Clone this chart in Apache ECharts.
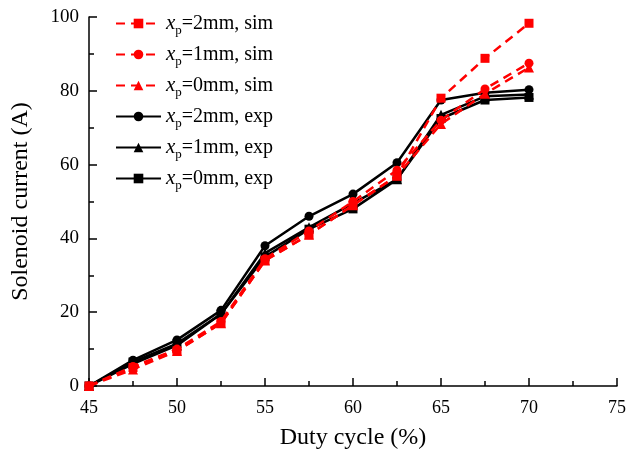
<!DOCTYPE html>
<html><head><meta charset="utf-8">
<script src="https://cdn.jsdelivr.net/npm/echarts@6/dist/echarts.min.js"></script>
<style>html,body{margin:0;padding:0;background:#fff}#c{width:629px;height:455px}</style>
</head><body><div id="c"></div>
<script>
const duty = [45, 47.5, 50, 52.5, 55, 57.5, 60, 62.5, 65, 67.5, 70];
const sim2 = [0, 5, 9.5, 17, 34, 41, 49, 57, 78, 88.8, 98.3];
const sim1 = [0, 5.3, 10, 17.5, 34.5, 42, 50, 58.5, 72, 80.5, 87.5];
const sim0 = [0, 4.5, 9.5, 17, 34, 41, 49, 57, 71, 79.2, 86.3];
const exp2 = [0, 7, 12.5, 20.5, 38, 46, 52, 60.5, 77.5, 79.5, 80.3];
const exp1 = [0, 6, 11, 19.5, 36, 43, 49.5, 56, 73.5, 78.5, 79];
const exp0 = [0, 6.5, 11.5, 19.5, 35, 42.5, 48, 56, 72.5, 77.5, 78.2];
const names = ['2mm, sim', '1mm, sim', '0mm, sim', '2mm, exp', '1mm, exp', '0mm, exp'];
const xTicks = [45, 50, 55, 60, 65, 70, 75];
const yTicks = [0, 20, 40, 60, 80, 100];

const font = '"Liberation Serif", "Times New Roman", serif';
function pts(arr){ return duty.map((d,i)=>[d, arr[i]]); }
function mk(name, arr, color, dashed, symbol){
  return {
    name: name, type: 'line', data: pts(arr), symbol: symbol, symbolSize: symbol==='triangle'?10:9,
    lineStyle: {color: color, width: 2.5, type: dashed ? [9,6] : 'solid'},
    itemStyle: {color: color}, z: dashed ? 3 : 2
  };
}
const chart = echarts.init(document.getElementById('c'));
chart.setOption({
  animation: false,
  backgroundColor: '#fff',
  grid: {left: 89, right: 8, top: 17, bottom: 65},
  legend: {
    left: 110, top: 8, orient: 'vertical', itemGap: 7, itemWidth: 45, itemHeight: 12,
    data: names,
    formatter: function(n){ return '{i|x}{s|p}{t|=' + n + '}'; },
    textStyle: {
      fontFamily: font, fontSize: 20, color: '#000',
      rich: {
        i: {fontFamily: font, fontStyle: 'italic', fontSize: 21, color:'#000'},
        s: {fontFamily: font, fontSize: 13, color:'#000', verticalAlign: 'bottom', padding: [14,0,0,0]},
        t: {fontFamily: font, fontSize: 20, color:'#000'}
      }
    }
  },
  xAxis: {
    type: 'value', min: 45, max: 75, interval: 5,
    name: 'Duty cycle (%)', nameLocation: 'middle', nameGap: 40,
    nameTextStyle: {fontFamily: font, fontSize: 24, color: '#000'},
    axisLine: {show: true, lineStyle: {color: '#000', width: 1.5}},
    axisTick: {show: true, inside: true, length: 8, lineStyle: {color:'#000', width: 1.5}},
    minorTick: {show: true, splitNumber: 2, length: 5, lineStyle: {color:'#000', width: 1.5}},
    axisLabel: {fontFamily: font, fontSize: 18, color: '#000', margin: 13,
      formatter: function(v){ return xTicks.indexOf(v) >= 0 ? String(v) : ''; }},
    splitLine: {show: false}
  },
  yAxis: {
    type: 'value', min: 0, max: 100, interval: 20,
    name: 'Solenoid current (A)', nameLocation: 'middle', nameGap: 56,
    nameTextStyle: {fontFamily: font, fontSize: 24, color: '#000'},
    axisLine: {show: true, lineStyle: {color: '#000', width: 1.5}},
    axisTick: {show: true, inside: true, length: 8, lineStyle: {color:'#000', width: 1.5}},
    minorTick: {show: true, splitNumber: 2, length: 5, lineStyle: {color:'#000', width: 1.5}},
    axisLabel: {fontFamily: font, fontSize: 19, color: '#000', margin: 10,
      formatter: function(v){ return yTicks.indexOf(v) >= 0 ? String(v) : ''; }},
    splitLine: {show: false}
  },
  series: [
    mk(names[0], sim2, '#ff0000', true, 'rect'),
    mk(names[1], sim1, '#ff0000', true, 'circle'),
    mk(names[2], sim0, '#ff0000', true, 'triangle'),
    mk(names[3], exp2, '#000000', false, 'circle'),
    mk(names[4], exp1, '#000000', false, 'triangle'),
    mk(names[5], exp0, '#000000', false, 'rect')
  ]
});
</script></body></html>
